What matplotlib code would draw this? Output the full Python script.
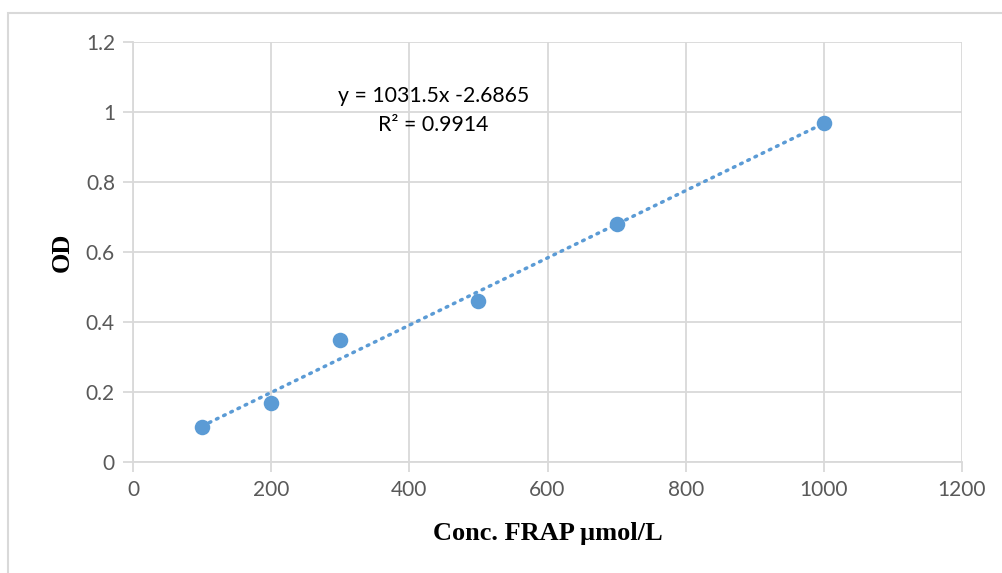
import numpy as np
import matplotlib.pyplot as plt
from matplotlib.patches import Rectangle

# Data
conc = [100, 200, 300, 500, 700, 1000]
od = [0.10, 0.17, 0.35, 0.46, 0.68, 0.97]
x_ticks = [0, 200, 400, 600, 800, 1000, 1200]
y_ticks = [0, 0.2, 0.4, 0.6, 0.8, 1.0, 1.2]
y_tick_labels = ['0', '0.2', '0.4', '0.6', '0.8', '1', '1.2']
eq_text = 'y = 1031.5x -2.6865'
r2_text = 'R² = 0.9914'

blue = '#5B9BD5'
grid_col = '#D9D9D9'
tick_col = '#595959'

fig = plt.figure(figsize=(10.03, 5.73), dpi=100)
ax = fig.add_axes([133 / 1003, 1 - 462 / 573, (962 - 133) / 1003, (462 - 42) / 573])

# chart border (clipped at right/bottom)
fig.patches.append(Rectangle((8 / 1003, -0.05), 1.2, 1 - 13 / 573 + 0.05,
                             transform=fig.transFigure, fill=False,
                             edgecolor=grid_col, linewidth=1.5))

# linear trendline
coef = np.polyfit(conc, od, 1)
xs = np.array([min(conc), max(conc)])
ax.plot(xs, np.polyval(coef, xs), color=blue, linewidth=2.5,
        linestyle=(0, (0.5, 1.8)), dash_capstyle='round', zorder=2)

ax.scatter(conc, od, s=125, color=blue, zorder=3, linewidths=0)

ax.set_xlim(0, 1200)
ax.set_ylim(0, 1.2)
ax.set_xticks(x_ticks)
ax.set_yticks(y_ticks)
ax.set_yticklabels(y_tick_labels)
ax.grid(True, color=grid_col, linewidth=1.3)
ax.set_axisbelow(True)
for s in ['top', 'right']:
    ax.spines[s].set_visible(False)
for s in ['left', 'bottom']:
    ax.spines[s].set_color(grid_col)
    ax.spines[s].set_linewidth(1.3)
ax.tick_params(axis='both', colors=grid_col, length=7, width=1.3,
               labelcolor=tick_col, labelsize=15, pad=6)
for lab in ax.get_xticklabels() + ax.get_yticklabels():
    lab.set_family('Lato')

ax.text(435, 1.047, eq_text, fontsize=15.3, family='Lato', ha='center', va='center', color='black')
ax.text(435, 0.962, r2_text, fontsize=15.3, family='Lato', ha='center', va='center', color='black')

ax.set_xlabel('Conc. FRAP µmol/L', fontsize=19, fontweight='bold',
              family='Liberation Serif', labelpad=16)
ax.set_ylabel('OD', fontsize=19, fontweight='bold',
              family='Liberation Serif', labelpad=9)

fig.savefig('out.png', dpi=100)
